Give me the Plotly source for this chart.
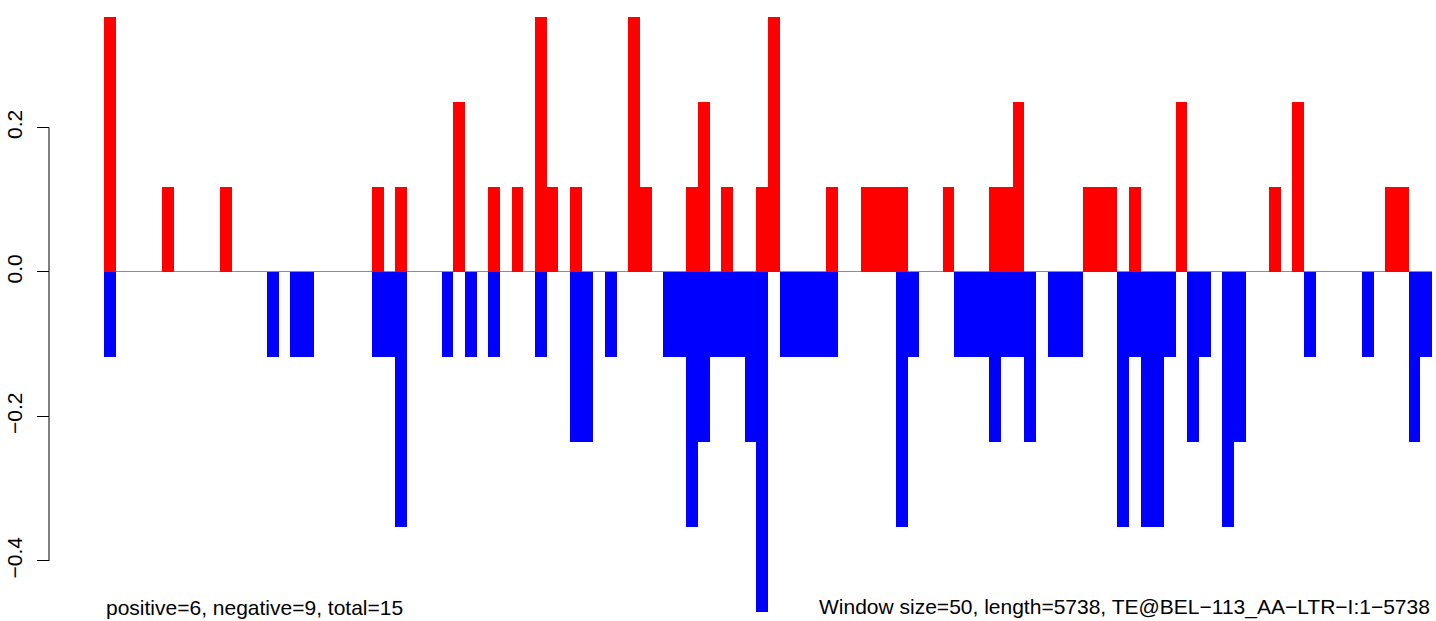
import plotly.graph_objects as go

U1, U2, U3, U4 = 0.1176, 0.2353, 0.3529, 0.4706
N = 114

pos_idx = {0: U3, 5: U1, 10: U1, 23: U1, 25: U1, 30: U2, 33: U1, 35: U1, 37: U3, 38: U1,
           40: U1, 45: U3, 46: U1, 50: U1, 51: U2, 53: U1, 56: U1, 57: U3, 62: U1,
           65: U1, 66: U1, 67: U1, 68: U1, 72: U1, 76: U1, 77: U1, 78: U2,
           84: U1, 85: U1, 86: U1, 88: U1, 92: U2, 100: U1, 102: U2, 110: U1, 111: U1}
neg_idx = {0: U1, 14: U1, 16: U1, 17: U1, 23: U1, 24: U1, 25: U3, 29: U1, 31: U1, 33: U1,
           37: U1, 40: U2, 41: U2, 43: U1, 48: U1, 49: U1, 50: U3, 51: U2, 52: U1, 53: U1,
           54: U1, 55: U2, 56: U4, 58: U1, 59: U1, 60: U1, 61: U1, 62: U1, 68: U3, 69: U1,
           73: U1, 74: U1, 75: U1, 76: U2, 77: U1, 78: U1, 79: U2, 81: U1, 82: U1, 83: U1,
           87: U3, 88: U1, 89: U3, 90: U3, 91: U1, 93: U2, 94: U1, 96: U3, 97: U2,
           103: U1, 108: U1, 112: U2, 113: U1}

windows = list(range(N))
positive = [pos_idx.get(i, 0.0) for i in windows]
negative = [-neg_idx.get(i, 0.0) for i in windows]

tick_vals = [-0.4, -0.2, 0.0, 0.2]
tick_text = ["\u22120.4", "\u22120.2", "0.0", "0.2"]
left_note = "positive=6, negative=9, total=15"
right_note = "Window size=50, length=5738, TE@BEL\u2212113_AA\u2212LTR\u2212I:1\u22125738"

W, H = 1436, 621
ML, MR, MT, MB = 40, 4, 17, 9
plot_left = 104
axis_x = 49
pw = W - ML - MR
dom0 = (plot_left - ML) / pw
ypos = (axis_x - ML) / pw

fig = go.Figure()
fig.add_trace(go.Bar(x=windows, y=positive, width=1, marker=dict(color="#FF0000", line=dict(width=0)), showlegend=False))
fig.add_trace(go.Bar(x=windows, y=negative, width=1, marker=dict(color="#0000FF", line=dict(width=0)), showlegend=False))

FONT = "Liberation Sans, Arial, sans-serif"
FS = 21
fig.update_layout(
    width=W, height=H,
    margin=dict(l=ML, r=MR, t=MT, b=MB, pad=0),
    paper_bgcolor="white", plot_bgcolor="white",
    barmode="overlay", bargap=0,
    font=dict(family=FONT, size=FS, color="#000000"),
    xaxis=dict(domain=[dom0, 1], range=[-0.5, N - 0.5], visible=False, showgrid=False, zeroline=False),
    yaxis=dict(range=[-U4, U3], anchor="free", position=ypos, showgrid=False,
               zeroline=True, zerolinecolor="#8c8c8c", zerolinewidth=1,
               showline=False, ticks="outside", ticklen=12, tickwidth=1, tickcolor="#000000",
               tickvals=tick_vals, ticktext=tick_text, tickangle=-90,
               ticklabelstandoff=7, tickfont=dict(size=FS, family=FONT),
               automargin=False),
    shapes=[dict(type="line", xref="paper", yref="y", x0=ypos, x1=ypos,
                 y0=min(tick_vals), y1=max(tick_vals), line=dict(color="#000000", width=1))],
    annotations=[
        dict(text=left_note, xref="paper", yref="paper", x=dom0, y=0.008, xanchor="left", yanchor="middle",
             showarrow=False, font=dict(size=FS, family=FONT)),
        dict(text=right_note, xref="paper", yref="paper", x=1, y=0.008, xanchor="right", yanchor="middle",
             showarrow=False, font=dict(size=FS, family=FONT)),
    ],
)

fig.write_html("out.html", config={"displayModeBar": False},
               post_script="document.body.style.margin='0px';document.body.style.overflow='hidden';")
